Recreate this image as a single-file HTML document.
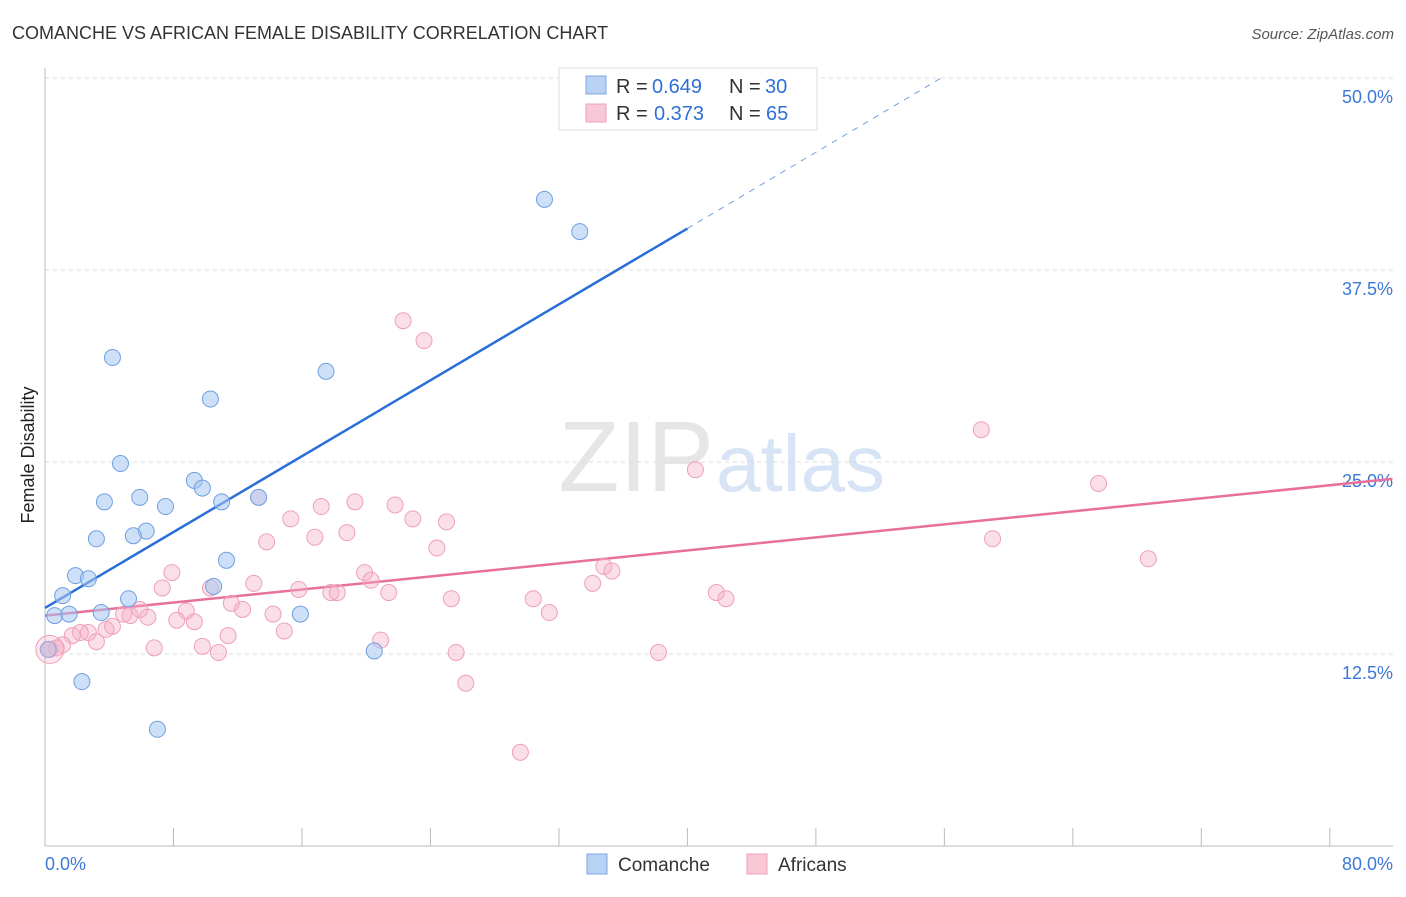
<!DOCTYPE html>
<html><head><meta charset="utf-8"><style>
body{margin:0;background:#fff;font-family:"Liberation Sans",sans-serif;}
svg text{font-family:"Liberation Sans",sans-serif;}
</style></head><body>
<svg id="chart" width="1406" height="892">
<text x="12" y="39" font-size="18" fill="#333">COMANCHE VS AFRICAN FEMALE DISABILITY CORRELATION CHART</text>
<text x="1394" y="39" font-size="15" fill="#555" text-anchor="end" font-style="italic">Source: ZipAtlas.com</text>
<text x="34" y="455" font-size="18" fill="#222" text-anchor="middle" transform="rotate(-90 34 455)">Female Disability</text>
<text x="714" y="491" font-size="100" fill="#e6e6e6" text-anchor="end" font-family="Liberation Serif">ZIP</text>
<text x="716" y="491" font-size="80" fill="#d6e4f5">atlas</text>
<g id="grid"></g><g id="axes"></g><g id="lines"></g><g id="pts"></g>
<g>
<rect x="559" y="68" width="258" height="62" fill="#fff" stroke="#ddd"/>
<rect x="586" y="76" width="20" height="18" fill="#b8d2f4" stroke="#7aa6e0"/>
<text x="616" y="93" font-size="20" fill="#333">R =</text>
<text x="652" y="93" font-size="20" fill="#2f6fd6">0.649</text>
<text x="729" y="93" font-size="20" fill="#333">N =</text>
<text x="765" y="93" font-size="20" fill="#2f6fd6">30</text>
<rect x="586" y="104" width="20" height="18" fill="#f8c8d6" stroke="#eea0b8"/>
<text x="616" y="120" font-size="20" fill="#333">R =</text>
<text x="654" y="120" font-size="20" fill="#2f6fd6">0.373</text>
<text x="729" y="120" font-size="20" fill="#333">N =</text>
<text x="766" y="120" font-size="20" fill="#2f6fd6">65</text>
</g>
<g>
<rect x="587" y="854" width="20" height="20" fill="#b8d2f4" stroke="#7aa6e0"/>
<text x="618" y="871" font-size="19" fill="#333">Comanche</text>
<rect x="747" y="854" width="20" height="20" fill="#f8c8d6" stroke="#eea0b8"/>
<text x="778" y="871" font-size="19" fill="#333">Africans</text>
</g>
</svg>
<script>
const yTicks=[12.5,25,37.5,50];
const yTickLabels=["12.5%","25.0%","37.5%","50.0%"];
const xTicks=[0,8,16,24,32,40,48,56,64,72,80];
const blueX=[31.1,33.3,4.2,17.5,10.3,4.7,9.3,9.8,3.7,5.9,7.5,11.0,13.3,6.3,5.5,3.2,11.3,1.9,2.7,1.1,5.2,10.5,0.6,1.5,3.5,15.9,0.2,20.5,2.3,7.0];
const blueY=[42.1,40.0,31.8,30.9,29.1,24.9,23.8,23.3,22.4,22.7,22.1,22.4,22.7,20.5,20.2,20.0,18.6,17.6,17.4,16.3,16.1,16.9,15.0,15.1,15.2,15.1,12.8,12.7,10.7,7.6];
const pinkX=[22.3,23.6,58.3,40.5,65.6,13.3,19.3,21.8,17.2,15.3,22.9,25.0,18.8,13.8,16.8,24.4,59.0,68.7,7.9,19.9,20.3,34.8,35.3,7.3,10.3,13.0,15.8,17.8,18.2,21.4,34.1,41.8,42.4,25.3,30.4,11.6,12.3,5.9,4.9,5.3,6.4,8.8,8.2,9.3,31.4,14.2,4.2,3.8,2.7,2.2,1.7,3.2,11.4,14.9,20.9,6.8,9.8,10.8,25.6,38.2,26.2,29.6,1.1,0.3,0.7];
const pinkY=[34.2,32.9,27.1,24.5,23.6,22.7,22.4,22.2,22.1,21.3,21.3,21.1,20.4,19.8,20.1,19.4,20.0,18.7,17.8,17.8,17.3,18.2,17.9,16.8,16.8,17.1,16.7,16.5,16.5,16.5,17.1,16.5,16.1,16.1,16.1,15.8,15.4,15.4,15.1,15.0,14.9,15.3,14.7,14.6,15.2,15.1,14.3,14.1,13.9,13.9,13.7,13.3,13.7,14.0,13.4,12.9,13.0,12.6,12.6,12.6,10.6,6.1,13.1,12.8,12.9];
const blueLine=[[0,15.5],[40,40.2],[55.8,50]];
const pinkLine=[[0,15.0],[83.9,23.9]];
const NS="http://www.w3.org/2000/svg";
const X=v=>45+v*16.06, Y=v=>846-v*15.36;
function mk(tag,attrs,parent){const e=document.createElementNS(NS,tag);for(const k in attrs)e.setAttribute(k,attrs[k]);document.getElementById(parent).appendChild(e);return e;}
yTicks.forEach((t,i)=>{
 const g=mk('line',{x1:45,x2:1393,y1:Y(t),y2:Y(t),stroke:'#ddd','stroke-dasharray':'4,4'},'grid');
 
 
 const tx=mk('text',{x:1393,y:Y(t)+25,'font-size':18,fill:'#3d78d8','text-anchor':'end'},'axes');tx.textContent=yTickLabels[i];
 
 
});
const ax=mk('line',{x1:45,x2:1393,y1:846,y2:846,stroke:'#bbb'},'axes');


const ay=mk('line',{x1:45,x2:45,y1:68,y2:846,stroke:'#bbb'},'axes');


xTicks.forEach(t=>{const l=mk('line',{x1:X(t),x2:X(t),y1:828,y2:846,stroke:'#bbb'},'axes');
 
 });
const xl0=mk('text',{x:45,y:870,'font-size':18,fill:'#3d78d8'},'axes');xl0.textContent='0.0%';


const xl1=mk('text',{x:1393,y:870,'font-size':18,fill:'#3d78d8','text-anchor':'end'},'axes');xl1.textContent='80.0%';


function addPts(xs,ys,fill,stroke,name){xs.forEach((x,i)=>{const c=mk('circle',{cx:X(x),cy:Y(ys[i]),r:8,fill:fill,stroke:stroke,'stroke-width':1},'pts');
 
 });}
addPts(pinkX,pinkY,'rgba(246,176,198,0.4)','#eea0b8','africans-point');
addPts(blueX,blueY,'rgba(165,198,242,0.55)','#6f9fe0','comanche-point');
const big=mk('circle',{cx:X(0.3),cy:Y(12.8),r:14,fill:'rgba(246,176,198,0.3)',stroke:'#eea0b8'},'pts');


const b1=mk('line',{x1:X(blueLine[0][0]),y1:Y(blueLine[0][1]),x2:X(blueLine[1][0]),y2:Y(blueLine[1][1]),stroke:'#2a6fd8','stroke-width':2.5},'lines');


const b2=mk('line',{x1:X(blueLine[1][0]),y1:Y(blueLine[1][1]),x2:X(blueLine[2][0]),y2:Y(blueLine[2][1]),stroke:'#6f9fe0','stroke-width':1,'stroke-dasharray':'6,6'},'lines');


const p1=mk('line',{x1:X(pinkLine[0][0]),y1:Y(pinkLine[0][1]),x2:X(pinkLine[1][0]),y2:Y(pinkLine[1][1]),stroke:'#e8709a','stroke-width':2.5},'lines');


</script>
</body></html>
